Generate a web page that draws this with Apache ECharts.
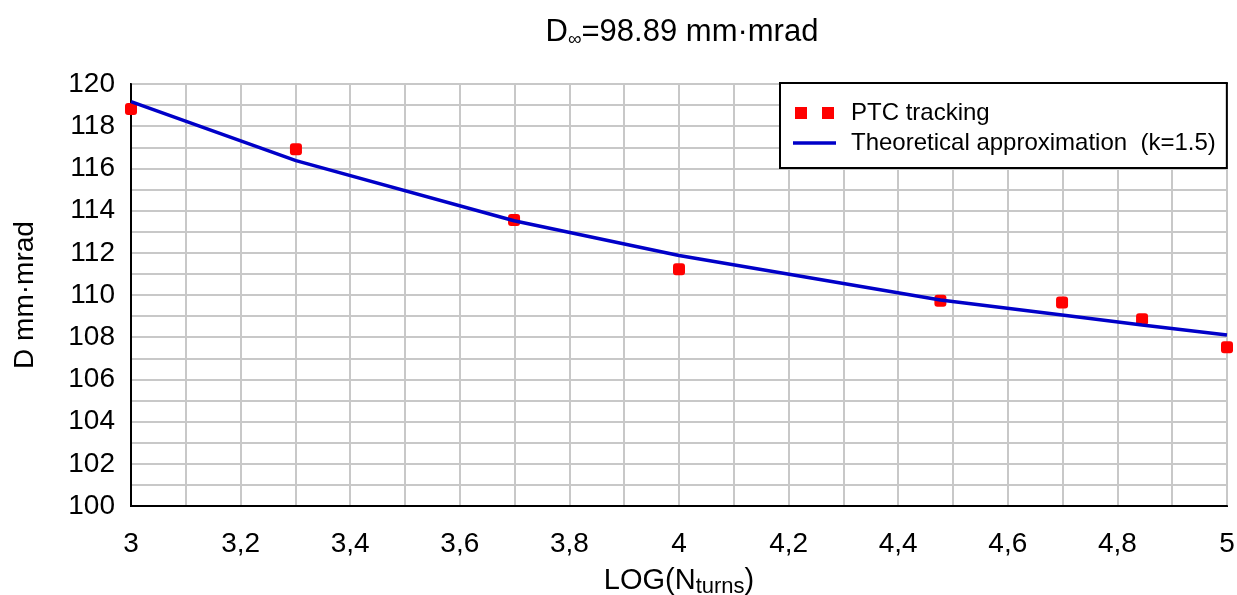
<!DOCTYPE html>
<html>
<head>
<meta charset="utf-8">
<script src="https://cdn.jsdelivr.net/npm/echarts@6/dist/echarts.min.js"></script>
<style>
  html, body { margin: 0; padding: 0; background: #fff; }
  #chart { width: 1237px; height: 595px; }
</style>
</head>
<body>
<div id="chart"></div>
<script>
// LOG10 of turn count
const logTurns = [3, 3.301, 3.699, 4, 4.477, 4.699, 4.845, 5];
// Dynamic aperture from PTC tracking (mm·mrad)
const ptcTracking = [118.82, 116.91, 113.55, 111.22, 109.73, 109.64, 108.85, 107.52];
// Theoretical approximation, k = 1.5 (mm·mrad)
const theory = [119.16, 116.37, 113.52, 111.87, 109.76, 109.05, 108.58, 108.10];

const xTicks = { min: 3, max: 5, step: 0.2 };
const yTicks = { min: 100, max: 120, step: 2 };

const FONT = '"Liberation Sans", Arial, sans-serif';

const chart = echarts.init(document.getElementById('chart'), null, { renderer: 'canvas' });

chart.setOption({
  backgroundColor: '#ffffff',
  animation: false,
  textStyle: { fontFamily: FONT, color: '#000' },
  title: {
    text: '{n|D}{sub|∞}{n|=98.89 mm·mrad}',
    left: 677,
    textAlign: 'center',
    top: 11,
    textStyle: {
      fontFamily: FONT, fontSize: 31, fontWeight: 'normal', color: '#000',
      rich: {
        n: { fontFamily: FONT, fontSize: 31, color: '#000' },
        sub: { fontFamily: FONT, fontSize: 19, color: '#000', padding: [14, 0, 0, 0] }
      }
    }
  },
  legend: {
    orient: 'vertical',
    left: 780,
    top: 83,
    padding: [18, 11, 13, 13],
    itemGap: 6,
    itemWidth: 43,
    itemHeight: 12,
    symbolKeepAspect: true,
    borderColor: '#000',
    borderWidth: 2,
    backgroundColor: '#fff',
    textStyle: { fontFamily: FONT, fontSize: 24, color: '#000', lineHeight: 24, padding: [0, 0, 0, 10] },
    data: [
      { name: 'PTC tracking', icon: 'path://M0,0h12v12h-12z M27,0h12v12h-12z', itemStyle: { color: '#ff0000', opacity: 1 } },
      { name: 'Theoretical approximation  (k=1.5)', icon: 'path://M0,0h43v3.5h-43z', itemStyle: { color: '#0000c8', opacity: 1 } }
    ]
  },
  grid: {
    left: 131, right: 10, top: 84, bottom: 89,
    containLabel: false,
    outerBoundsMode: 'none',
    show: true, borderColor: '#000', borderWidth: 2, backgroundColor: '#fff'
  },
  xAxis: {
    type: 'value',
    min: xTicks.min, max: xTicks.max, interval: xTicks.step,
    name: '{n|LOG(N}{sub|turns}{n|)}',
    nameLocation: 'middle',
    nameGap: 57,
    nameTextStyle: {
      fontFamily: FONT, fontSize: 29, color: '#000',
      rich: {
        n: { fontFamily: FONT, fontSize: 29, color: '#000' },
        sub: { fontFamily: FONT, fontSize: 22, color: '#000', padding: [13, 0, 0, 0] }
      }
    },
    axisLine: { show: true, lineStyle: { color: '#000', width: 2 } },
    axisTick: { show: false },
    axisLabel: {
      fontFamily: FONT, fontSize: 28, color: '#000', margin: 24,
      formatter: v => String(Math.round(v * 10) / 10).replace('.', ',')
    },
    splitLine: { show: true, lineStyle: { color: '#c8c8c8', width: 2 } },
    minorTick: { show: false, splitNumber: 2 },
    minorSplitLine: { show: true, lineStyle: { color: '#c8c8c8', width: 2 } }
  },
  yAxis: {
    type: 'value',
    min: yTicks.min, max: yTicks.max, interval: yTicks.step,
    name: 'D mm·mrad',
    nameLocation: 'middle',
    nameGap: 92,
    nameRotate: 90,
    nameTextStyle: { fontFamily: FONT, fontSize: 28, color: '#000' },
    axisLine: { show: true, lineStyle: { color: '#000', width: 2 } },
    axisTick: { show: false },
    axisLabel: { fontFamily: FONT, fontSize: 28, color: '#000', margin: 16 },
    splitLine: { show: true, lineStyle: { color: '#c8c8c8', width: 2 } },
    minorTick: { show: false, splitNumber: 2 },
    minorSplitLine: { show: true, lineStyle: { color: '#c8c8c8', width: 2 } }
  },
  series: [
    {
      name: 'PTC tracking',
      type: 'scatter',
      data: logTurns.map((x, i) => [x, ptcTracking[i]]),
      symbol: 'roundRect',
      symbolSize: 12,
      itemStyle: { color: '#ff0000', opacity: 1 },
      clip: false,
      z: 2
    },
    {
      name: 'Theoretical approximation  (k=1.5)',
      type: 'line',
      data: logTurns.map((x, i) => [x, theory[i]]),
      showSymbol: false,
      symbol: 'none',
      lineStyle: { color: '#0000c8', width: 3.5 },
      itemStyle: { color: '#0000c8' },
      clip: false,
      z: 3
    }
  ]
});
</script>
</body>
</html>
